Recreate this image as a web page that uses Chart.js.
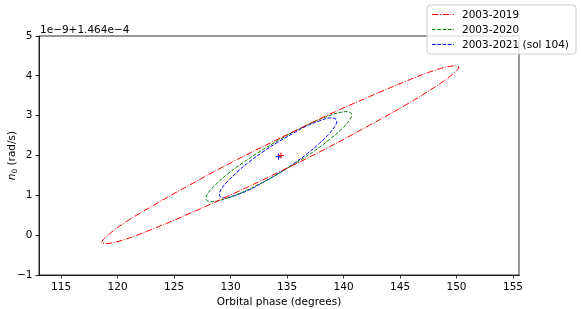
<!DOCTYPE html>
<html><head><meta charset="utf-8">
<script src="https://cdn.jsdelivr.net/npm/chart.js@4.4.0/dist/chart.umd.min.js"></script>
<style>html,body{margin:0;padding:0;background:#fff;}canvas{display:block;}</style>
</head><body>
<canvas id="c" width="581" height="309"></canvas>
<script>
// ---- data ----
const xTickValues = [115,120,125,130,135,140,145,150,155];
const yTickValues = [-1,0,1,2,3,4,5];
const yTickLabels = ["\u22121","0","1","2","3","4","5"];
const seriesLabels = ["2003-2019","2003-2020","2003-2021 (sol 104)"];
const xAxisTitle = "Orbital phase (degrees)";
const offsetText = "1e\u22129+1.464e\u22124";

const ell2019X = [134.4,130.31,126.5,123.23,120.72,119.14,118.6,119.14,120.72,123.23,126.5,130.31,134.4,138.49,142.3,145.57,148.08,149.66,150.2,149.66,148.08,145.57,142.3,138.49,134.4];
const ell2019Y = [2.44,1.86,1.28,0.76,0.33,0.00,-0.18,-0.21,-0.10,0.17,0.56,1.05,1.60,2.18,2.76,3.28,3.72,4.04,4.22,4.25,4.14,3.87,3.48,3.00,2.44];

const ell2020X = [134.27,132.6,131.05,129.71,128.68,128.04,127.82,128.04,128.68,129.71,131.05,132.6,134.27,135.94,137.5,138.83,139.86,140.5,140.72,140.5,139.86,138.83,137.5,135.94,134.27];
const ell2020Y = [2.39,2.10,1.81,1.53,1.27,1.07,0.92,0.85,0.85,0.93,1.08,1.29,1.55,1.84,2.13,2.42,2.67,2.88,3.02,3.09,3.09,3.01,2.86,2.65,2.39];

const ell2021X = [134.2,132.85,131.6,130.52,129.7,129.18,129.0,129.18,129.7,130.52,131.6,132.85,134.2,135.55,136.8,137.88,138.7,139.22,139.4,139.22,138.7,137.88,136.8,135.55,134.2];
const ell2021Y = [2.34,2.09,1.83,1.57,1.34,1.16,1.02,0.95,0.94,1.01,1.13,1.32,1.54,1.79,2.05,2.31,2.54,2.73,2.86,2.93,2.94,2.87,2.75,2.56,2.34];

const centre2019 = [134.46, 2.00];
const centre2021 = [134.25, 1.97];

const xMin = 113.04, xMax = 155.53, yMin = -1, yMax = 5;

// ---- chart ----
const FONT = "DejaVu Sans";
const FS = 10.5;
const colors = ["#ff0000","#008000","#0000ff"];
const dashes = [[6.4,1.6,1,1.6],[3.7,1.6],[3.7,1.6]];
const toPts = (xs, ys) => xs.map((x,i)=>({x:x, y:ys[i]}));

const ellipseDs = (xs, ys, i) => ({
  label: seriesLabels[i], data: toPts(xs, ys), showLine: true, fill: false,
  borderColor: colors[i], borderWidth: 1, borderDash: dashes[i],
  pointRadius: 0, pointHoverRadius: 0, tension: 0.4
});

const framePlugin = {
  id: 'frame',
  afterDraw(chart) {
    const ctx = chart.ctx, a = chart.chartArea;
    ctx.save();
    ctx.strokeStyle = '#000'; ctx.lineWidth = 0.8;
    ctx.strokeRect(a.left, a.top, a.right - a.left, a.bottom - a.top);
    ctx.fillStyle = '#000';
    ctx.font = FS + 'px "' + FONT + '"';
    ctx.textAlign = 'left'; ctx.textBaseline = 'alphabetic';
    ctx.fillText(offsetText, a.left + 1, a.top - 3);
    ctx.textAlign = 'center'; ctx.textBaseline = 'middle';
    ctx.fillText(xAxisTitle, (a.left + a.right) / 2, 302);
    ctx.save();
    ctx.translate(12, (a.top + a.bottom) / 2);
    ctx.rotate(-Math.PI / 2);
    const fN = 'italic ' + FS + 'px "' + FONT + '"';
    const fSub = (FS * 0.7) + 'px "' + FONT + '"';
    const fR = FS + 'px "' + FONT + '"';
    const rest = ' (rad/s)';
    ctx.font = fN; const wN = ctx.measureText('n').width;
    ctx.font = fSub; const wS = ctx.measureText('0').width;
    ctx.font = fR; const wR = ctx.measureText(rest).width;
    let x0 = -(wN + wS + wR) / 2;
    ctx.textAlign = 'left'; ctx.textBaseline = 'middle';
    ctx.font = fN; ctx.fillText('n', x0, 0); x0 += wN;
    ctx.font = fSub; ctx.fillText('0', x0, 3); x0 += wS;
    ctx.font = fR; ctx.fillText(rest, x0, 0);
    ctx.restore();
    const bx = 427, by = 5, bw = 149, bh = 49, r = 3;
    ctx.beginPath();
    ctx.moveTo(bx + r, by); ctx.lineTo(bx + bw - r, by); ctx.quadraticCurveTo(bx + bw, by, bx + bw, by + r);
    ctx.lineTo(bx + bw, by + bh - r); ctx.quadraticCurveTo(bx + bw, by + bh, bx + bw - r, by + bh);
    ctx.lineTo(bx + r, by + bh); ctx.quadraticCurveTo(bx, by + bh, bx, by + bh - r);
    ctx.lineTo(bx, by + r); ctx.quadraticCurveTo(bx, by, bx + r, by);
    ctx.closePath();
    ctx.fillStyle = 'rgba(255,255,255,0.8)'; ctx.fill();
    ctx.strokeStyle = '#cccccc'; ctx.lineWidth = 1; ctx.stroke();
    const rows = [14.5, 29.5, 44.5];
    for (let i = 0; i < 3; i++) {
      ctx.beginPath();
      ctx.setLineDash(dashes[i]);
      ctx.strokeStyle = colors[i]; ctx.lineWidth = 1;
      ctx.moveTo(432, rows[i]); ctx.lineTo(454, rows[i]); ctx.stroke();
      ctx.setLineDash([]);
      ctx.fillStyle = '#000'; ctx.font = fR;
      ctx.textAlign = 'left'; ctx.textBaseline = 'middle';
      ctx.fillText(seriesLabels[i], 462, rows[i] + 0.5);
    }
    ctx.restore();
  }
};

new Chart(document.getElementById('c'), {
  type: 'scatter',
  data: {
    datasets: [
      ellipseDs(ell2019X, ell2019Y, 0),
      ellipseDs(ell2020X, ell2020Y, 1),
      ellipseDs(ell2021X, ell2021Y, 2),
      { label: 'c2019', data: [{x: centre2019[0], y: centre2019[1]}], pointStyle: 'cross', pointRadius: 3, pointBorderWidth: 1, borderColor: colors[0], backgroundColor: colors[0] },
      { label: 'c2021', data: [{x: centre2021[0], y: centre2021[1]}], pointStyle: 'cross', pointRadius: 3, pointBorderWidth: 1, borderColor: colors[2], backgroundColor: colors[2] }
    ]
  },
  options: {
    responsive: false, animation: false, devicePixelRatio: 1,
    layout: { padding: { left: 0, top: 36, right: 62, bottom: 0 } },
    plugins: { legend: { display: false }, tooltip: { enabled: false } },
    events: [],
    scales: {
      x: {
        type: 'linear', min: xMin, max: xMax,
        afterBuildTicks: s => { s.ticks = xTickValues.map(v => ({value: v})); },
        afterFit: s => { s.height = 34; },
        grid: { drawOnChartArea: false, drawTicks: true, tickLength: 3.5, color: '#000', lineWidth: 0.8 },
        border: { display: true, color: '#000', width: 0.8 },
        ticks: { color: '#000', font: { family: FONT, size: FS }, padding: 2, maxRotation: 0, autoSkip: false,
                 callback: v => String(v) }
      },
      y: {
        type: 'linear', min: yMin, max: yMax,
        afterBuildTicks: s => { s.ticks = yTickValues.map(v => ({value: v})); },
        afterFit: s => { s.width = 39; },
        grid: { drawOnChartArea: false, drawTicks: true, tickLength: 3.5, color: '#000', lineWidth: 0.8 },
        border: { display: true, color: '#000', width: 0.8 },
        ticks: { color: '#000', font: { family: FONT, size: FS }, padding: 3, autoSkip: false,
                 callback: v => yTickLabels[yTickValues.indexOf(v)] }
      }
    }
  },
  plugins: [framePlugin]
});
</script>
</body></html>
